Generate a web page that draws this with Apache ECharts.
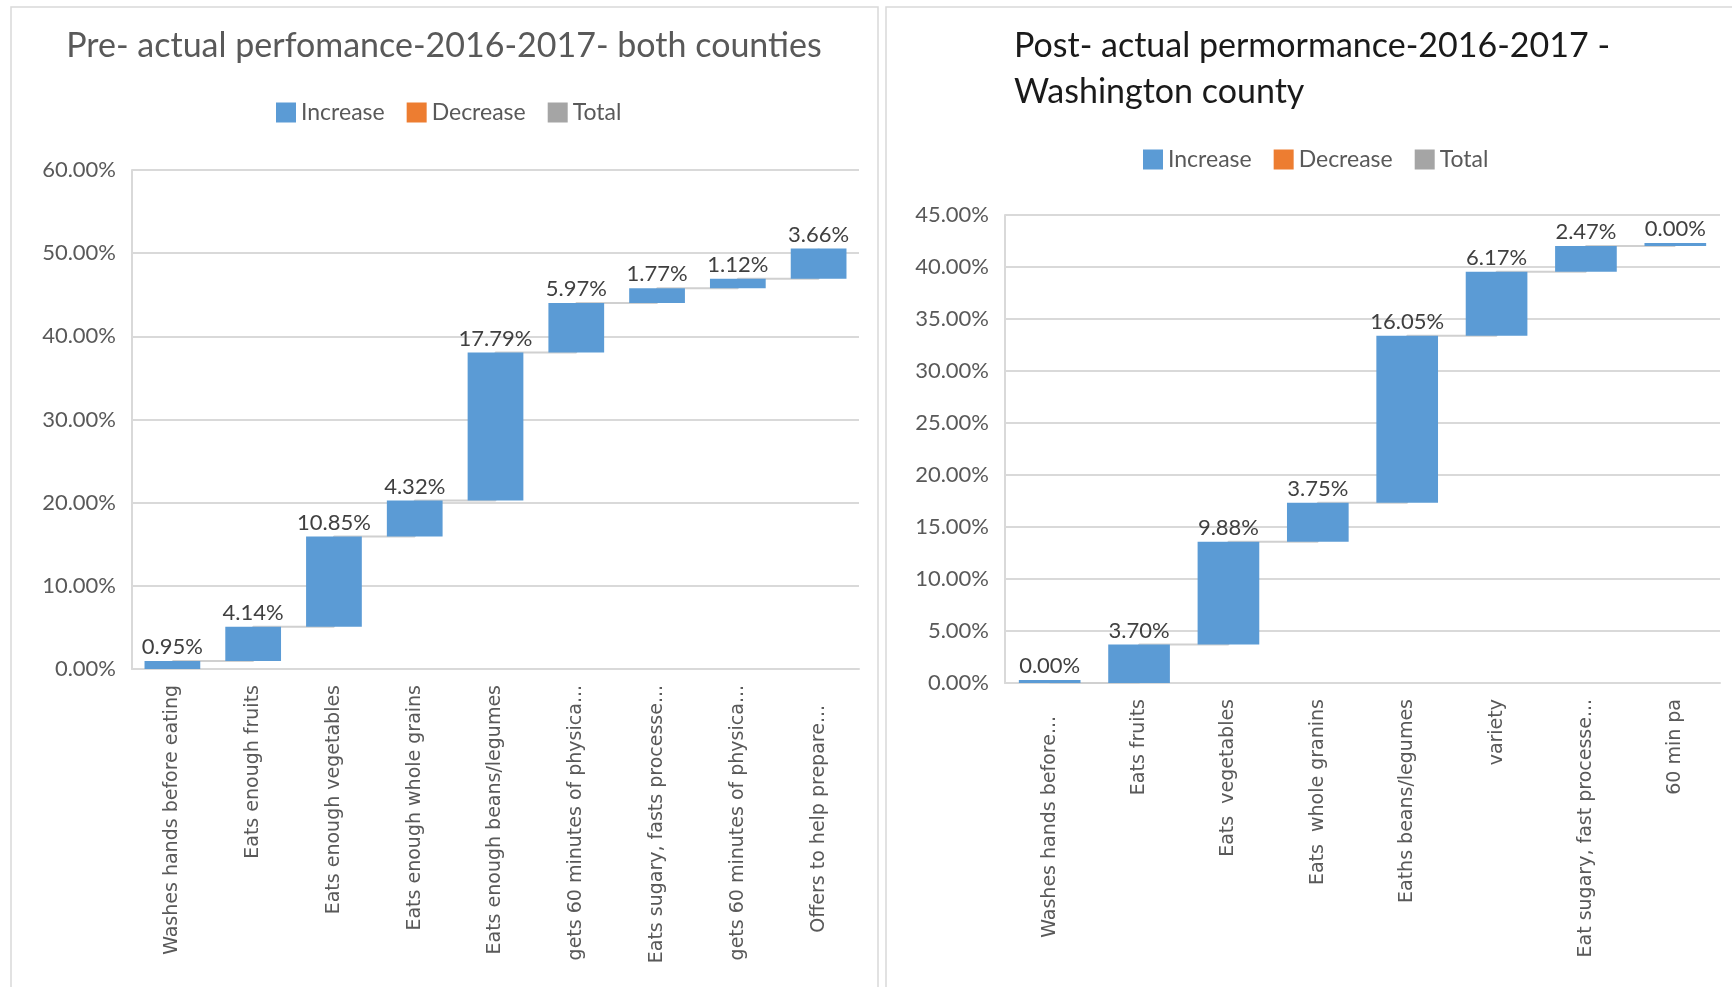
<!DOCTYPE html>
<html>
<head>
<meta charset="utf-8">
<script src="https://cdn.jsdelivr.net/npm/echarts@6/dist/echarts.min.js"></script>
<style>
  html, body { margin: 0; padding: 0; background: #ffffff; }
  #chart { width: 1732px; height: 987px; }
</style>
</head>
<body>
<div id="chart"></div>
<script>
// Step sizes of each waterfall, in percent
const leftCategories = [
  'Washes hands before eating',
  'Eats enough fruits',
  'Eats enough vegetables',
  'Eats enough whole grains',
  'Eats enough beans/legumes',
  'gets 60 minutes of physica...',
  'Eats sugary, fasts processe...',
  'gets 60 minutes of physica...',
  'Offers to help prepare...'
];
const leftIncrease = [0.95, 4.14, 10.85, 4.32, 17.79, 5.97, 1.77, 1.12, 3.66];

const rightCategories = [
  'Washes hands before...',
  'Eats fruits',
  'Eats  vegetables',
  'Eats  whole granins',
  'Eaths beans/legumes',
  'variety',
  'Eat sugary, fast processe...',
  '60 min pa'
];
const rightIncrease = [0.00, 3.70, 9.88, 3.75, 16.05, 6.17, 2.47, 0.00];

const legendNames = ['Increase', 'Decrease', 'Total'];
const leftTitle = 'Pre- actual perfomance-2016-2017- both counties';
const rightTitle = 'Post- actual permormance-2016-2017 -\nWashington county';

const COLORS = { Increase: '#5B9BD5', Decrease: '#ED7D31', Total: '#A5A5A5' };
const UI_FONT = 'Lato, "Liberation Sans", sans-serif';
const AXIS_FONT = '"DejaVu Sans", Verdana, sans-serif';
const GRID_GREY = '#D9D9D9';

// truncated category labels sit a little further from the axis
const labelPush = { 0: { 8: 20 }, 1: { 0: 17 } };

// invisible offsets and running tops for a stacked waterfall
function waterfall(values) {
  const base = [];
  const tops = [];
  let run = 0;
  values.forEach(v => {
    base.push(+run.toFixed(4));
    run += v;
    tops.push(+run.toFixed(4));
  });
  return { base, tops };
}

const pct = v => v.toFixed(2) + '%';

function chartSeries(idx, values) {
  const wf = waterfall(values);
  const stack = 'wf' + idx;
  const common = { type: 'bar', stack, xAxisIndex: idx, yAxisIndex: idx, barCategoryGap: '31%' };
  return [
    Object.assign({}, common, {
      name: 'base' + idx,
      data: wf.base,
      silent: true,
      itemStyle: { color: 'rgba(0,0,0,0)' },
      z: 3
    }),
    Object.assign({}, common, {
      name: 'Increase',
      data: values,
      barMinHeight: 3,
      itemStyle: { color: COLORS.Increase },
      z: 3,
      label: {
        show: true,
        position: 'top',
        distance: 3,
        formatter: p => pct(p.value),
        color: '#404040',
        fontFamily: UI_FONT,
        fontSize: 22
      }
    }),
    Object.assign({}, common, { name: 'Decrease', data: [], itemStyle: { color: COLORS.Decrease } }),
    Object.assign({}, common, { name: 'Total', data: [], itemStyle: { color: COLORS.Total } }),
    {
      // connector lines between consecutive steps
      type: 'line',
      name: 'connector' + idx,
      xAxisIndex: idx,
      yAxisIndex: idx,
      data: wf.tops,
      step: 'end',
      symbol: 'none',
      silent: true,
      z: 1,
      lineStyle: { color: '#D0D0D0', width: 2 }
    }
  ];
}

function xAxis(idx, cats, margin) {
  const push = labelPush[idx] || {};
  const rich = {};
  Object.keys(push).forEach(k => { rich['p' + k] = { padding: [0, push[k], 0, 0] }; });
  return {
    type: 'category',
    gridIndex: idx,
    data: cats,
    axisTick: { show: false },
    axisLine: { show: true, lineStyle: { color: GRID_GREY, width: 2 } },
    axisLabel: {
      interval: 0,
      rotate: 90,
      margin,
      color: '#595959',
      fontFamily: AXIS_FONT,
      fontSize: 19,
      formatter: (val, i) => (push[i] ? '{p' + i + '|' + val + '}' : val),
      rich
    }
  };
}

function yAxis(idx, max, interval) {
  return {
    type: 'value',
    gridIndex: idx,
    min: 0,
    max,
    interval,
    axisLine: { show: true, lineStyle: { color: GRID_GREY, width: 2 } },
    axisTick: { show: false },
    splitLine: { show: true, lineStyle: { color: GRID_GREY, width: 2 } },
    axisLabel: {
      formatter: v => pct(v),
      margin: 16,
      color: '#595959',
      fontFamily: UI_FONT,
      fontSize: 22
    }
  };
}

function legend(left, top) {
  return {
    data: legendNames,
    left,
    top,
    icon: 'rect',
    itemWidth: 20,
    itemHeight: 20,
    itemGap: 22,
    selectedMode: false,
    textStyle: { color: '#595959', fontFamily: UI_FONT, fontSize: 23 }
  };
}

const chart = echarts.init(document.getElementById('chart'), null, { renderer: 'canvas' });

chart.setOption({
  backgroundColor: '#ffffff',
  animation: false,
  graphic: [
    { type: 'rect', shape: { x: 11, y: 7, width: 867, height: 1000 },
      style: { fill: 'none', stroke: GRID_GREY, lineWidth: 1.5 }, silent: true },
    { type: 'rect', shape: { x: 886, y: 7, width: 900, height: 1000 },
      style: { fill: 'none', stroke: GRID_GREY, lineWidth: 1.5 }, silent: true },
    { type: 'text', x: 444, y: 46,
      style: { text: leftTitle, fill: '#595959', font: '34px ' + UI_FONT,
               textAlign: 'center', textVerticalAlign: 'middle' } },
    { type: 'text', x: 1014, y: 69,
      style: { text: rightTitle, fill: '#1a1a1a', font: '34px ' + UI_FONT, lineHeight: 46,
               textAlign: 'left', textVerticalAlign: 'middle' } }
  ],
  legend: [legend(271, 96), legend(1138, 143)],
  grid: [
    { left: 132, right: 873, top: 170, bottom: 318 },
    { left: 1005, right: 12, top: 215, bottom: 304 }
  ],
  xAxis: [xAxis(0, leftCategories, 16), xAxis(1, rightCategories, 16)],
  yAxis: [yAxis(0, 60, 10), yAxis(1, 45, 5)],
  series: [].concat(chartSeries(0, leftIncrease), chartSeries(1, rightIncrease))
});
</script>
</body>
</html>
